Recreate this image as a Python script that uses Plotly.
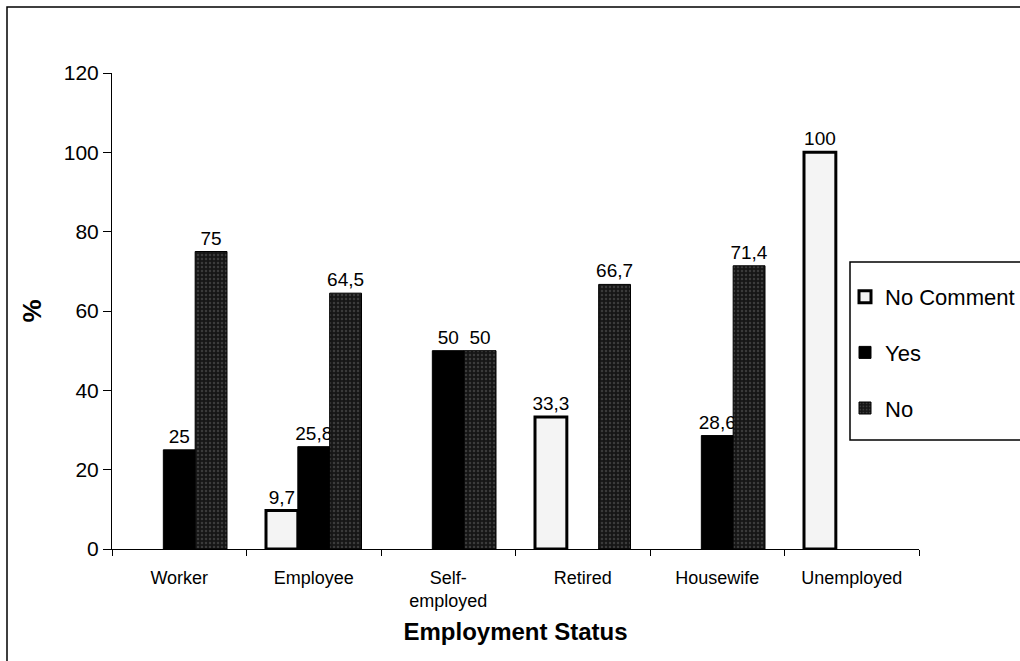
import plotly.graph_objects as go

# Survey answers by employment status (percent)
categories = ["Worker", "Employee", "Self-<br>employed", "Retired", "Housewife", "Unemployed"]
no_comment = [None, 9.7, None, 33.3, None, 100]
yes = [25, 25.8, 50, None, 28.6, None]
no = [75, 64.5, 50, 66.7, 71.4, None]

y_ticks = [0, 20, 40, 60, 80, 100, 120]

FONT = "Liberation Sans, Arial, sans-serif"

W, H = 1020, 661
L, R, T, B = 112, 101, 73, 112
PW, PH = W - L - R, H - T - B


def px_x(x):
    return (x - L) / PW


def px_y(y):
    return (H - B - y) / PH


def fmt(values):
    return ["" if v is None else f"{v:g}".replace(".", ",") for v in values]


fig = go.Figure()

fig.add_trace(go.Bar(
    name="No Comment", x=categories, y=no_comment, text=fmt(no_comment),
    legendgroup="nc",
    marker=dict(color="#f4f4f4", line=dict(color="black", width=3)),
))
fig.add_trace(go.Bar(
    name="Yes", x=categories, y=yes, text=fmt(yes),
    legendgroup="yes",
    marker=dict(color="black", line=dict(color="black", width=1)),
))
fig.add_trace(go.Bar(
    name="No", x=categories, y=no, text=fmt(no),
    legendgroup="no",
    marker=dict(
        color="#161616",
        line=dict(color="black", width=1),
        pattern=dict(shape=".", fgcolor="#606060", bgcolor="#161616", size=4, solidity=0.3),
    ),
))

fig.update_traces(
    textposition="outside",
    constraintext="none",
    cliponaxis=False,
    textfont=dict(family=FONT, size=19, color="black"),
)

fig.update_layout(
    width=W,
    height=H,
    margin=dict(l=L, r=R, t=T, b=B, autoexpand=False),
    paper_bgcolor="white",
    plot_bgcolor="white",
    barmode="group",
    bargap=0.29,
    bargroupgap=0,
    font=dict(family=FONT, color="black"),
    showlegend=True,
    legend=dict(
        xref="container", yref="container",
        x=845 / W, y=1 - 276 / H, xanchor="left", yanchor="top",
        borderwidth=0, bgcolor="rgba(0,0,0,0)",
        font=dict(family=FONT, size=22, color="black"),
        tracegroupgap=24,
        itemwidth=30,
    ),
    xaxis=dict(
        showline=True, linecolor="black", linewidth=1,
        ticks="outside", tickson="boundaries", ticklen=6, tickcolor="black",
        ticklabelstandoff=12,
        tickfont=dict(family=FONT, size=18, color="black"),
        title=dict(text="<b>Employment Status</b>",
                   font=dict(family=FONT, size=24, color="black"), standoff=13),
    ),
    yaxis=dict(
        range=[0, 120],
        tickvals=y_ticks,
        showline=True, linecolor="black", linewidth=1,
        ticks="outside", ticklen=8, tickcolor="black",
        showgrid=False, zeroline=False,
        tickfont=dict(family=FONT, size=21, color="black"),
        title=dict(text="<b>%</b>", font=dict(family=FONT, size=26, color="black"), standoff=14),
    ),
)

# Outer chart frame
fig.add_shape(
    type="rect", xref="paper", yref="paper",
    x0=px_x(7), x1=px_x(1030), y0=px_y(670), y1=px_y(7),
    line=dict(color="black", width=1.5), fillcolor="rgba(0,0,0,0)", layer="below",
)

# Legend frame
fig.add_shape(
    type="rect", xref="paper", yref="paper",
    x0=px_x(850), x1=px_x(1030), y0=px_y(440), y1=px_y(262),
    line=dict(color="black", width=1.5), fillcolor="white", layer="below",
)

fig.write_html("out.html")
